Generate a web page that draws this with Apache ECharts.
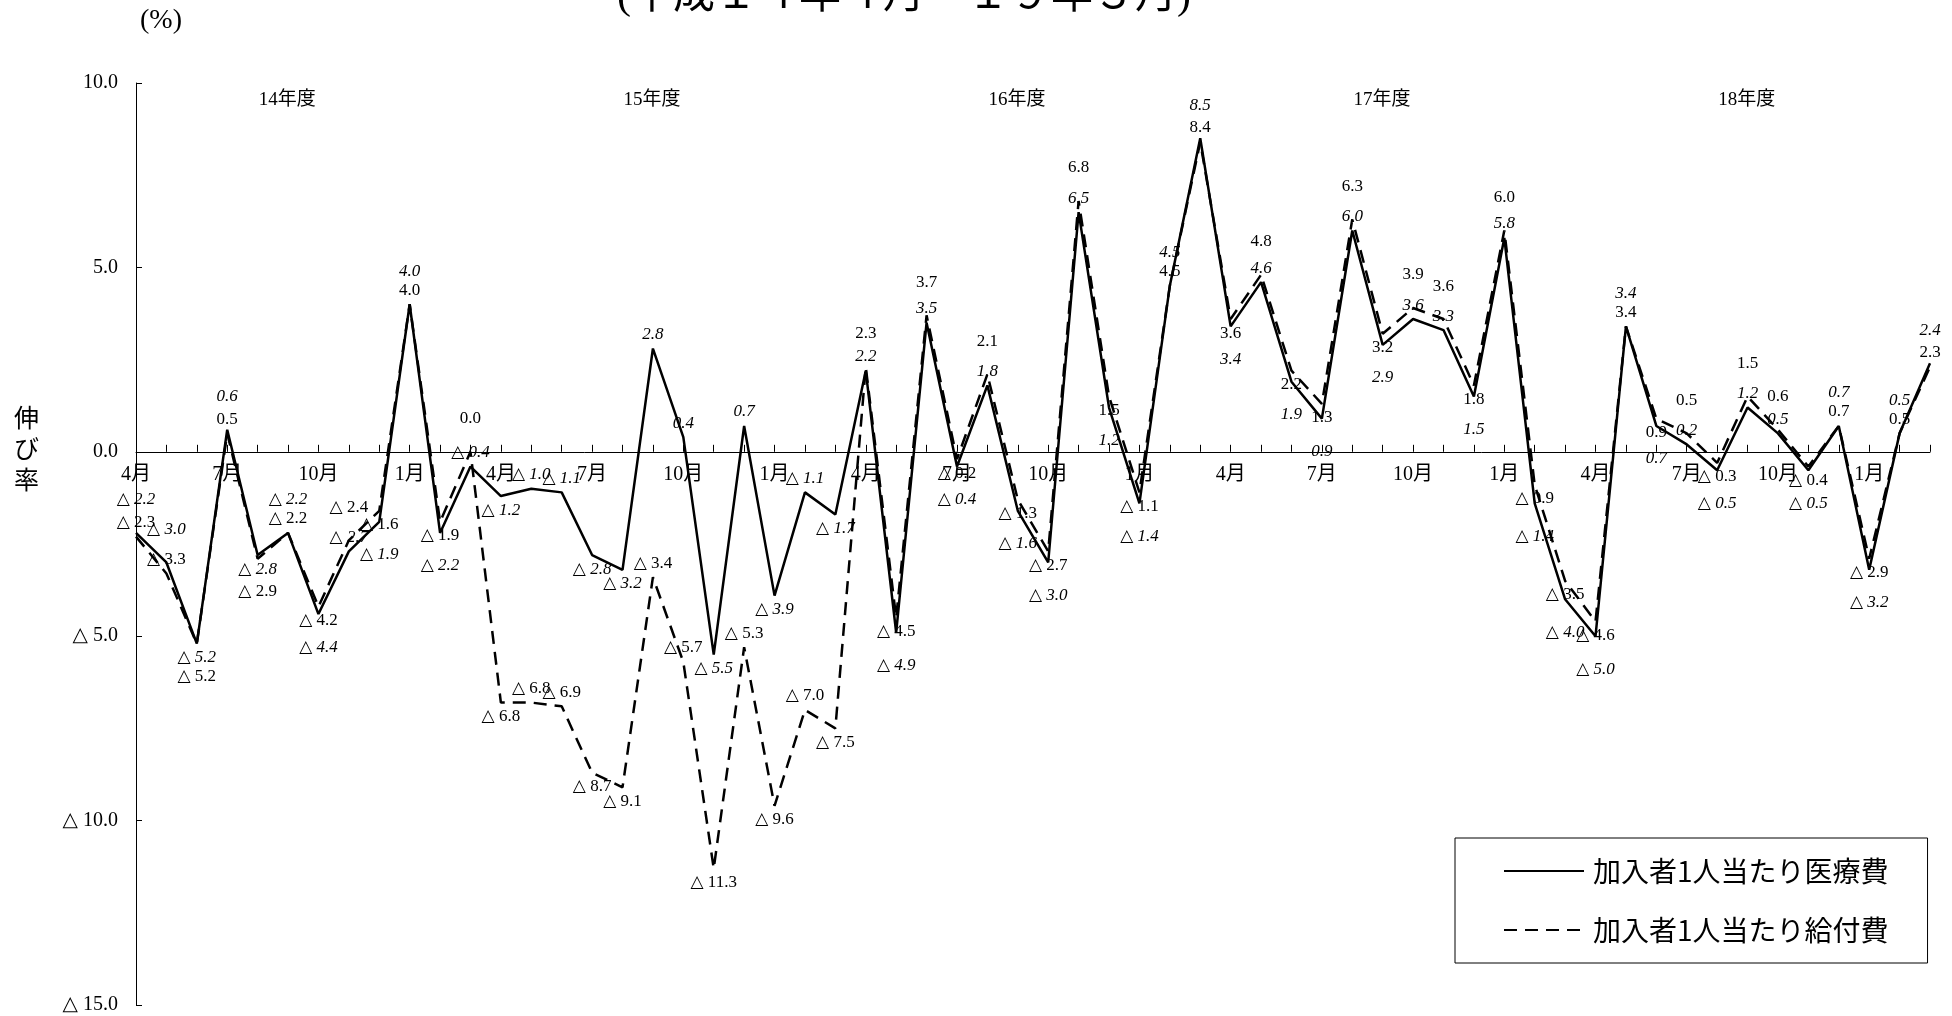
<!DOCTYPE html>
<html>
<head>
<meta charset="utf-8">
<script src="https://cdn.jsdelivr.net/npm/echarts@6/dist/echarts.min.js"></script>
<style>
html,body{margin:0;padding:0;background:#fff;}
#chart{width:1952px;height:1016px;}
</style>
</head>
<body>
<div id="chart"></div>
<script>
// ---- data ----
const months = ['4月','5月','6月','7月','8月','9月','10月','11月','12月','1月','2月','3月'];
const fiscalYears = ['14年度','15年度','16年度','17年度','18年度'];
const categories = [];
fiscalYears.forEach(function(){ months.forEach(function(m){ categories.push(m); }); });

// 加入者1人当たり医療費 (solid)
const iryouhi = [
  -2.2, -3.0, -5.2, 0.6, -2.8, -2.2, -4.4, -2.7, -1.9, 4.0, -2.2, -0.4,
  -1.2, -1.0, -1.1, -2.8, -3.2, 2.8, 0.4, -5.5, 0.7, -3.9, -1.1, -1.7,
  2.2, -4.9, 3.5, -0.4, 1.8, -1.6, -3.0, 6.5, 1.2, -1.4, 4.5, 8.5,
  3.4, 4.6, 1.9, 0.9, 6.0, 2.9, 3.6, 3.3, 1.5, 5.8, -1.4, -4.0,
  -5.0, 3.4, 0.7, 0.2, -0.5, 1.2, 0.5, -0.5, 0.7, -3.2, 0.5, 2.4
];
// 加入者1人当たり給付費 (dashed)
const kyufuhi = [
  -2.3, -3.3, -5.2, 0.5, -2.9, -2.2, -4.2, -2.4, -1.6, 4.0, -1.9, 0.0,
  -6.8, -6.8, -6.9, -8.7, -9.1, -3.4, -5.7, -11.3, -5.3, -9.6, -7.0, -7.5,
  2.3, -4.5, 3.7, -0.2, 2.1, -1.3, -2.7, 6.8, 1.5, -1.1, 4.5, 8.4,
  3.6, 4.8, 2.2, 1.3, 6.3, 3.2, 3.9, 3.6, 1.8, 6.0, -0.9, -3.5,
  -4.6, 3.4, 0.9, 0.5, -0.3, 1.5, 0.6, -0.4, 0.7, -2.9, 0.5, 2.3
];
const yTicks = [10, 5, 0, -5, -10, -15];

const SERIF = "'Liberation Serif','DejaVu Serif','Noto Sans CJK JP',serif";

function fmt(v){
  return v < 0 ? '△ ' + Math.abs(v).toFixed(1) : v.toFixed(1);
}

function isUp(arr, i){
  const prev = i > 0 ? arr[i-1] : arr[i+1];
  const next = i < arr.length-1 ? arr[i+1] : arr[i-1];
  return arr[i] >= (prev + next) / 2;
}

function buildData(vals, other, isSolid){
  const avg = vals.map(function(v,i){ return (v + other[i]) / 2; });
  return vals.map(function(v, i){
    const o = other[i];
    const close = Math.abs(v - o) < 2;
    const up = close ? isUp(avg, i) : isUp(vals, i);
    let outer;
    if (!close) outer = false;
    else if (v === o) outer = up ? isSolid : !isSolid;
    else outer = up ? (v > o) : (v < o);
    return {
      value: v,
      label: {
        position: up ? 'top' : 'bottom',
        distance: outer ? 24 : 5
      }
    };
  });
}

const chart = echarts.init(document.getElementById('chart'));

const yearAreas = fiscalYears.map(function(name, k){
  return [{ xAxis: k*12, name: name }, { xAxis: k*12 + 11 }];
});

const GRID_TOP = 83, GRID_H = 922;
const zeroOffset = -GRID_H * (15 / 25);

chart.setOption({
  backgroundColor: '#fff',
  animation: false,
  title: {
    text: '(平成１４年４月～１９年３月)',
    left: 612,
    top: -29,
    textStyle: { fontSize: 42, fontWeight: 'normal', color: '#000', fontFamily: SERIF }
  },
  graphic: [
    { type: 'text', left: 140, top: 7,
      style: { text: '(%)', fontSize: 28, fill: '#000', fontFamily: SERIF } },
    { type: 'text', left: 14, top: 402,
      style: { text: '伸\nび\n率', fontSize: 25, lineHeight: 31, fill: '#000', fontFamily: "'Noto Sans CJK JP',sans-serif" } }
  ],
  legend: {
    orient: 'vertical',
    left: 1455,
    top: 838,
    padding: [19, 39, 19, 48],
    itemGap: 31,
    itemWidth: 80,
    itemHeight: 14,
    borderColor: '#000',
    borderWidth: 1,
    backgroundColor: '#fff',
    itemStyle: { opacity: 0 },
    textStyle: { fontSize: 28, color: '#000', fontFamily: "'Noto Sans CJK JP',sans-serif", padding: [0,0,0,4] },
    data: ['加入者1人当たり医療費', '加入者1人当たり給付費']
  },
  grid: { left: 136, top: GRID_TOP, width: 1794, height: GRID_H },
  xAxis: {
    type: 'category',
    data: categories,
    boundaryGap: false,
    position: 'bottom',
    offset: zeroOffset,
    axisLine: { onZero: false, lineStyle: { color: '#000', width: 1 } },
    axisTick: { show: true, inside: true, length: 7, interval: 0, lineStyle: { color: '#000' } },
    axisLabel: { interval: 2, fontSize: 20, margin: 13, color: '#000', fontFamily: SERIF },
    splitLine: { show: false }
  },
  yAxis: {
    type: 'value',
    min: -15,
    max: 10,
    interval: 5,
    axisLine: { show: true, lineStyle: { color: '#000', width: 1 } },
    axisTick: { show: true, inside: true, length: 6, lineStyle: { color: '#000' } },
    splitLine: { show: false },
    axisLabel: {
      fontSize: 20, margin: 18, color: '#000', fontFamily: SERIF,
      formatter: function(v){ return yTicks.indexOf(v) >= 0 ? fmt(v) : ''; }
    }
  },
  series: [
    {
      name: '加入者1人当たり医療費',
      type: 'line',
      data: buildData(iryouhi, kyufuhi, true),
      symbol: 'circle',
      symbolSize: 1,
      showSymbol: true,
      lineStyle: { color: '#000', width: 2.5, type: 'solid' },
      itemStyle: { color: 'rgba(0,0,0,0)' },
      label: {
        show: true, fontSize: 17, color: '#000', fontStyle: 'italic', fontFamily: SERIF,
        formatter: function(p){ return fmt(p.value); }
      },
      labelLayout: { hideOverlap: false },
      markArea: {
        silent: true,
        itemStyle: { color: 'rgba(0,0,0,0)' },
        label: { show: true, position: 'insideTop', distance: 8, offset: [-16, 0], fontSize: 19, color: '#000', fontFamily: SERIF },
        data: yearAreas
      },
      z: 3
    },
    {
      name: '加入者1人当たり給付費',
      type: 'line',
      data: buildData(kyufuhi, iryouhi, false),
      symbol: 'circle',
      symbolSize: 1,
      showSymbol: true,
      lineStyle: { color: '#000', width: 2.5, type: [13, 8] },
      itemStyle: { color: 'rgba(0,0,0,0)' },
      label: {
        show: true, fontSize: 17, color: '#000', fontStyle: 'normal', fontFamily: SERIF,
        formatter: function(p){ return fmt(p.value); }
      },
      labelLayout: { hideOverlap: false },
      z: 2
    }
  ]
});
</script>
</body>
</html>
